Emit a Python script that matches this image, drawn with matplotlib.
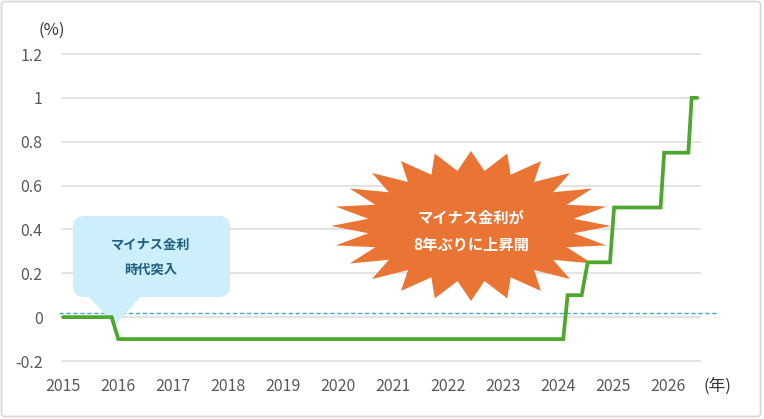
import numpy as np
import matplotlib.pyplot as plt
import matplotlib.transforms as mtransforms
from matplotlib.patches import FancyBboxPatch, Polygon
from matplotlib.ticker import FuncFormatter

plt.rcParams['font.family'] = ['Noto Sans CJK JP', 'DejaVu Sans']
plt.rcParams['axes.unicode_minus'] = False

# policy rate path (year, %)
years = [2015.0, 2015.885, 2016.005, 2024.095, 2024.175, 2024.43, 2024.54,
         2024.945, 2025.02, 2025.865, 2025.93, 2026.37, 2026.43, 2026.53]
rates = [0.0, 0.0, -0.1, -0.1, 0.1, 0.1, 0.25,
         0.25, 0.5, 0.5, 0.75, 0.75, 1.0, 1.0]

xticks = list(range(2015, 2027))
yticks = [-0.2, 0, 0.2, 0.4, 0.6, 0.8, 1.0, 1.2]
ref_level = 0.018

W, H = 764, 419
fig = plt.figure(figsize=(W / 100, H / 100), dpi=100)
ax = fig.add_axes([62 / W, 1 - 361 / H, (700 - 62) / W, (361 - 54) / H])

# pixel coordinates (origin top-left) for decorations
px = mtransforms.Affine2D().scale(1 / W, -1 / H).translate(0, 1) + fig.transFigure

fig.patches.append(FancyBboxPatch((1.5, 1.5), 759, 415, boxstyle='round,pad=0,rounding_size=3',
                                  transform=px, fc='white', ec='#d6d6d6', lw=1.2, zorder=-10))
fig.patch.set_alpha(0)

ax.set_xlim(2015 + (62 - 63) / 55, 2015 + (700 - 63) / 55)
ax.set_ylim(-0.2, 1.2)
ax.set_xticks(xticks)
ax.set_yticks(yticks)
ax.yaxis.set_major_formatter(FuncFormatter(lambda v, p: '{:g}'.format(round(v, 2))))
ax.tick_params(length=0, colors='#595959', labelsize=11.5)
ax.tick_params(axis='y', pad=14)
ax.tick_params(axis='x', pad=12)
for s in ax.spines.values():
    s.set_visible(False)
ax.patch.set_alpha(0)
ax.yaxis.grid(True, color='#dedede', lw=1.2)
ax.set_axisbelow(True)
for gl in ax.get_ygridlines():
    gl.set_clip_on(False)

ax.axhline(ref_level, xmin=-0.004, xmax=1.025, color='#3ea5dc', lw=1,
           dashes=(3, 2), clip_on=False, zorder=2)

ax.plot(years, rates, color='#4ea72e', lw=2.7, solid_capstyle='round',
        solid_joinstyle='miter', zorder=6, clip_on=False)

# blue callout
ax.add_patch(FancyBboxPatch((73, 216), 157, 81, boxstyle='round,pad=0,rounding_size=11',
                            transform=px, fc='#cdeefb', ec='none', zorder=4, clip_on=False))
ax.add_patch(Polygon([(88, 296), (141, 296), (115, 325)], closed=True, transform=px,
                     fc='#cdeefb', ec='none', zorder=4, clip_on=False))
ax.text(151, 245, 'マイナス金利', transform=px, ha='center', va='center',
        fontsize=9.5, fontweight='bold', color='#1d5d7e', zorder=5)
ax.text(151, 270, '時代突入', transform=px, ha='center', va='center',
        fontsize=9.5, fontweight='bold', color='#1d5d7e', zorder=5)

# orange starburst
n = 24
cx, cy, rx, ry = 471, 226, 140, 75
ang = np.pi - np.arange(2 * n) * np.pi / n
rr = np.where(np.arange(2 * n) % 2 == 0, 1.0, 0.74)
pts = np.column_stack([cx + rx * rr * np.cos(ang), cy - ry * rr * np.sin(ang)])
ax.add_patch(Polygon(pts, closed=True, transform=px, fc='#e97434', ec='none',
                     zorder=4, clip_on=False))
ax.text(cx, 218, 'マイナス金利が', transform=px, ha='center', va='center',
        fontsize=11, fontweight='bold', color='white', zorder=5)
ax.text(cx, 245, '8年ぶりに上昇開', transform=px, ha='center', va='center',
        fontsize=11, fontweight='bold', color='white', zorder=5)

ax.text(52, 30, '(%)', transform=px, ha='center', va='center', fontsize=12, color='#333333')
ax.text(717, 386, '(年)', transform=px, ha='center', va='center', fontsize=12, color='#333333')

fig.savefig('out.png', dpi=100)
